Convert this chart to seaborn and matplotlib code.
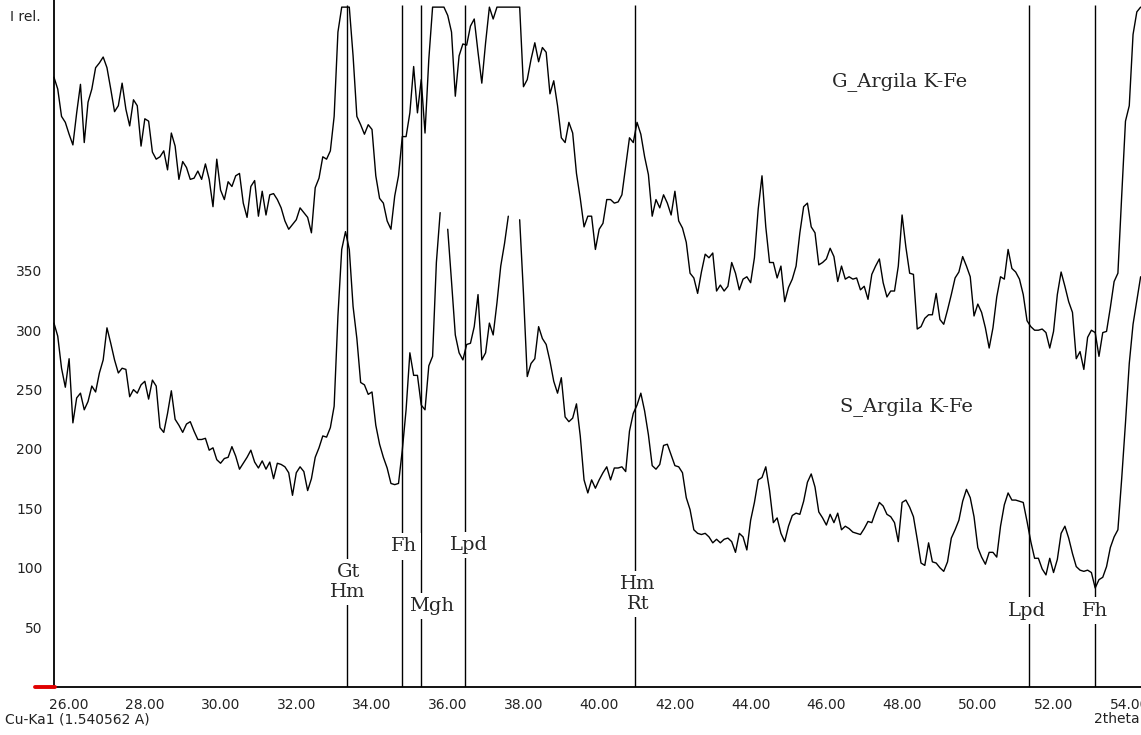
import numpy as np
import pandas as pd
import matplotlib
matplotlib.use("Agg")
import matplotlib.pyplot as plt
from matplotlib.ticker import FormatStrFormatter
import seaborn as sns

# ===================== Data =====================
# 2theta grid, 0.1 deg step from 25.6 to 54.3
two_theta = np.round(25.6 + 0.1 * np.arange(288), 2)

# G_Argila K-Fe (upper pattern, clipped at the top of the frame)
g_counts = [
    513, 503, 480, 475, 465, 456, 483, 507, 458, 492, 503, 521, 525, 530, 521, 503,
    484, 489, 508, 486, 472, 494, 489, 455, 478, 476, 450, 444, 446, 451, 435, 466,
    455, 427, 442, 437, 427, 428, 434, 427, 440, 427, 404, 444, 418, 410, 425, 421,
    430, 432, 407, 395, 421, 426, 396, 417, 397, 414, 415, 410, 403, 392, 385, 389,
    393, 403, 399, 395, 382, 420, 428, 446, 444, 451, 480, 551, 572, 572, 572, 531,
    480, 473, 465, 473, 469, 430, 411, 407, 392, 385, 413, 430, 463, 463, 483, 522,
    483, 511, 466, 528, 572, 572, 572, 572, 565, 551, 497, 531, 541, 540, 556, 562,
    534, 508, 542, 572, 562, 572, 572, 572, 572, 572, 572, 572, 505, 511, 528, 542,
    526, 538, 534, 499, 510, 489, 462, 458, 475, 466, 432, 411, 387, 396, 396, 368,
    385, 390, 410, 410, 407, 408, 414, 438, 462, 458, 475, 465, 446, 431, 396, 410,
    403, 414, 407, 397, 417, 392, 386, 374, 348, 344, 331, 349, 364, 361, 365, 333,
    338, 333, 337, 357, 348, 334, 343, 345, 340, 361, 402, 430, 387, 357, 357, 344,
    354, 324, 336, 343, 354, 382, 404, 407, 387, 382, 355, 357, 360, 369, 362, 341,
    354, 343, 345, 343, 344, 334, 337, 326, 347, 354, 360, 340, 328, 333, 333, 354,
    397, 370, 348, 347, 301, 303, 310, 313, 313, 331, 309, 305, 317, 330, 344, 349,
    362, 354, 345, 312, 322, 315, 302, 285, 302, 328, 345, 343, 368, 352, 349, 343,
    330, 308, 303, 300, 300, 301, 298, 285, 299, 330, 349, 337, 324, 315, 276, 282,
    267, 294, 300, 298, 278, 298, 299, 319, 341, 348, 413, 476, 489, 549, 568, 572,
]

# S_Argila K-Fe (lower pattern, hidden where it runs into the upper band)
s_counts = [
    306, 295, 268, 252, 276, 222, 243, 247, 233, 240, 253, 248, 264, 275, 302, 289,
    275, 264, 268, 267, 244, 250, 247, 254, 257, 242, 258, 253, 218, 214, 230, 249,
    225, 220, 214, 221, 223, 215, 208, 208, 209, 199, 201, 191, 188, 192, 193, 202,
    194, 183, 188, 193, 199, 189, 184, 190, 183, 189, 175, 188, 187, 185, 180, 161,
    180, 185, 181, 165, 175, 193, 201, 211, 210, 218, 236, 312, 368, 383, 368, 320,
    293, 256, 254, 246, 248, 220, 204, 193, 184, 171, 170, 171, 199, 233, 281, 262,
    262, 237, 233, 270, 278, 357, 399, np.nan, 385, 341, 296, 281, 275, 288, 289, 303,
    330, 275, 281, 306, 296, 323, 354, 373, 396, np.nan, np.nan, 393, 331, 261, 272, 276,
    303, 293, 288, 274, 257, 247, 260, 227, 223, 226, 238, 211, 174, 163, 174, 167,
    174, 180, 185, 174, 184, 184, 185, 181, 215, 230, 237, 247, 232, 212, 186, 183,
    187, 203, 204, 195, 186, 185, 180, 159, 149, 132, 129, 128, 129, 126, 121, 124,
    121, 124, 125, 122, 113, 129, 126, 115, 140, 155, 174, 176, 185, 165, 138, 142,
    129, 122, 135, 144, 146, 145, 156, 172, 179, 168, 147, 142, 136, 145, 138, 146,
    132, 135, 133, 130, 129, 128, 133, 139, 138, 147, 155, 152, 145, 143, 138, 122,
    155, 157, 151, 143, 124, 104, 102, 121, 105, 104, 100, 97, 105, 125, 132, 140,
    156, 166, 159, 143, 117, 109, 103, 113, 113, 109, 135, 153, 163, 157, 157, 156,
    155, 139, 122, 108, 108, 99, 94, 108, 96, 107, 129, 135, 125, 112, 101, 98,
    97, 98, 96, 83, 90, 92, 101, 117, 126, 132, 175, 222, 272, 305, 325, 345,
]

# phase markers
peak_pos = [33.33, 34.78, 35.30, 36.46, 40.95, 51.35, 53.10]
peak_labels = ["Gt\nHm", "Fh", "Mgh", "Lpd", "Hm\nRt", "Lpd", "Fh"]
label_x = [33.37, 34.84, 35.57, 36.55, 41.02, 51.31, 53.10]
label_y = [88, 118, 68, 119, 78, 64, 64]

y_ticks = [50, 100, 150, 200, 250, 300, 350]
x_ticks = list(range(26, 55, 2))

# ===================== Long table for seaborn =====================
frames = []
for name, counts in [("G", g_counts), ("S", s_counts)]:
    d = pd.DataFrame({"two_theta": two_theta, "intensity": counts})
    d["segment"] = name + d["intensity"].isna().cumsum().astype(str)
    frames.append(d)
df = pd.concat(frames, ignore_index=True)

# ===================== Plot =====================
sns.set_style("white")
plt.rcParams["font.family"] = ["DejaVu Sans"]

fig = plt.figure(figsize=(11.41, 7.35), dpi=100)
ax = fig.add_axes([0.0307, 0.0659, 0.9693, 0.9341])

sns.lineplot(data=df, x="two_theta", y="intensity", units="segment",
             estimator=None, color="black", lw=1.0, legend=False, ax=ax)

ax.vlines(peak_pos, 0, 574, color="black", lw=1.0, zorder=3)
for x, txt, tx, ty in zip(peak_pos, peak_labels, label_x, label_y):
    ax.text(tx, ty, txt, ha="center", va="center", fontsize=14,
            family="DejaVu Serif", linespacing=1.15, zorder=4,
            bbox=dict(boxstyle="square,pad=0.22", fc="white", ec="none"))

ax.text(46.15, 509, "G_Argila K-Fe", ha="left", va="center",
        fontsize=14, family="DejaVu Serif")
ax.text(46.36, 236, "S_Argila K-Fe", ha="left", va="center",
        fontsize=14, family="DejaVu Serif")

ax.set_xlim(25.10, 54.31)
ax.set_ylim(0, 578)
ax.set_xticks(x_ticks)
ax.set_yticks(y_ticks)
ax.xaxis.set_major_formatter(FormatStrFormatter("%.2f"))
ax.set_xlabel("")
ax.set_ylabel("")

for side in ["top", "right"]:
    ax.spines[side].set_visible(False)
ax.spines["left"].set_position(("data", 25.59))
for side in ["left", "bottom"]:
    ax.spines[side].set_color("black")
    ax.spines[side].set_linewidth(1.3)
ax.tick_params(axis="both", direction="out", length=5, width=1.0,
               colors="black", labelcolor="#222222", labelsize=10, pad=3)

# red marker at the origin of the scan
ax.axhline(0, xmin=0, xmax=0.018, color="#e00000", lw=2.8, zorder=5, clip_on=False)

fig.text(0.009, 0.977, "I rel.", ha="left", va="center", fontsize=10, color="#222222")
fig.text(0.004, 0.021, "Cu-Ka1 (1.540562 A)", ha="left", va="center",
         fontsize=10, color="#222222")
fig.text(0.999, 0.022, "2theta", ha="right", va="center", fontsize=10, color="#222222")

fig.savefig("out.png", dpi=100, facecolor="white")
